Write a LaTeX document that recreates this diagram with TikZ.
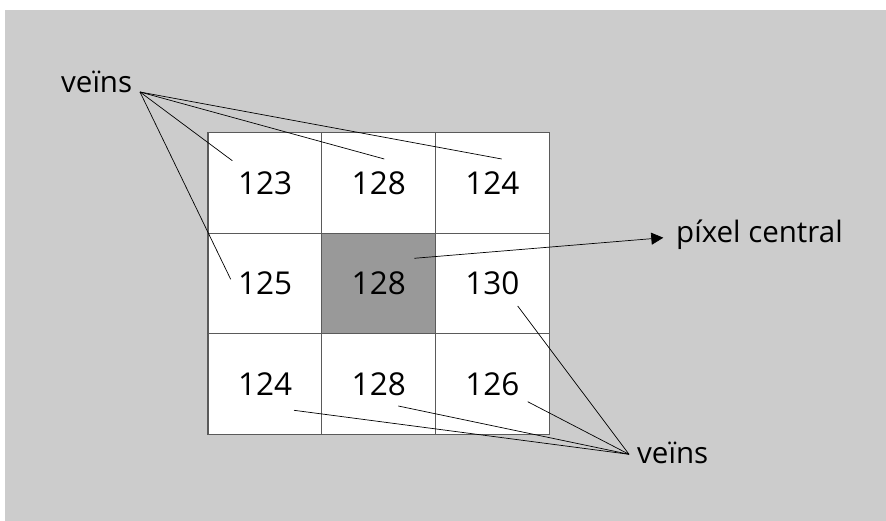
\documentclass[tikz,border=0pt]{standalone}
\usepackage{fontspec}
\setmainfont{Open Sans}
\usetikzlibrary{arrows.meta}
\definecolor{bggray}{HTML}{CCCCCC}
\definecolor{midgray}{HTML}{999999}
\definecolor{gridgray}{HTML}{5A5A5A}
\begin{document}
\begin{tikzpicture}[x=1pt,y=-1pt,
  cell/.style={fill=white,minimum width=113.7pt,minimum height=100.5pt,inner sep=0pt,anchor=north west,font=\fontsize{31.5}{32}\selectfont,text=black},
  gridline/.style={draw=gridgray,line width=1.1pt},
  lbl/.style={anchor=base west,inner sep=0pt,font=\fontsize{29.5}{30}\selectfont,text=black},
  conn/.style={draw=black,line width=0.7pt}]
\useasboundingbox (0,0) rectangle (886,521);
\fill[bggray] (5,10) rectangle (886,521);
% cells
\node[cell] (c11) at (208,132.7) {123};
\node[cell] (c12) at (321.7,132.7) {128};
\node[cell] (c13) at (435.4,132.7) {124};
\node[cell] (c21) at (208,233.2) {125};
\node[cell,fill=midgray] (c22) at (321.7,233.2) {128};
\node[cell] (c23) at (435.4,233.2) {130};
\node[cell] (c31) at (208,333.7) {124};
\node[cell] (c32) at (321.7,333.7) {128};
\node[cell] (c33) at (435.4,333.7) {126};
% grid
\draw[gridline] (c11.north west) rectangle (c33.south east);
\draw[gridline] (c12.north west) -- (c32.south west);
\draw[gridline] (c13.north west) -- (c33.south west);
\draw[gridline] (c21.north west) -- (c23.north east);
\draw[gridline] (c31.north west) -- (c33.north east);
% labels
\node[lbl] (vtop) at (61,92.7) {veïns};
\node[lbl] (pix) at (676,243) {píxel central};
\node[lbl] (vbot) at (637,463.3) {veïns};
% hubs and ends
\coordinate (htop) at (140,92);
\coordinate (hbot) at (629,454.3);
\coordinate (e11) at (232.3,160.7);
\coordinate (e12) at (384.3,159);
\coordinate (e13) at (501.7,159);
\coordinate (e21) at (230.7,279.3);
\coordinate (e22) at (414.3,258.3);
\coordinate (e23) at (517.7,306);
\coordinate (e33) at (527.7,401.7);
\coordinate (e32) at (398.3,406);
\coordinate (e31) at (294,410.3);
\coordinate (atip) at (663.3,237.7);
% connectors
\draw[conn] (htop) -- (e11);
\draw[conn] (htop) -- (e12);
\draw[conn] (htop) -- (e13);
\draw[conn] (htop) -- (e21);
\draw[conn] (hbot) -- (e23);
\draw[conn] (hbot) -- (e33);
\draw[conn] (hbot) -- (e32);
\draw[conn] (hbot) -- (e31);
\draw[conn,-{Triangle[length=12pt,width=12pt]}] (e22) -- (atip);
\end{tikzpicture}
\end{document}
